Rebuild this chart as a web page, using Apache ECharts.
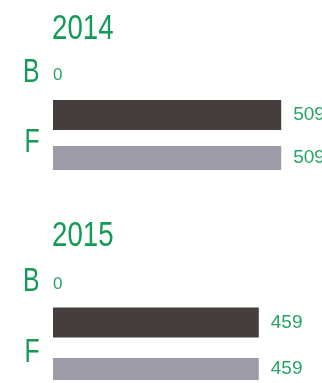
<!DOCTYPE html>
<html>
<head>
<meta charset="utf-8">
<style>
  html, body { margin: 0; padding: 0; background: #ffffff; }
  #chart { width: 322px; height: 383px; }
</style>
<script src="https://cdn.jsdelivr.net/npm/echarts@6/dist/echarts.min.js"></script>
</head>
<body>
<div id="chart"></div>
<script>
// Yearly panels: a "B" row (single value) and an "F" row with two bars.
const years = ['2014', '2015'];
const rows = ['B', 'F'];
const bValues = [0, 0];
const darkValues = [509, 459];
const grayValues = [509, 459];

const GREEN = '#139a58';
const LABEL_GREEN = '#25a466';
const DARK = '#463d3d';
const GRAY = '#9e9ba8';
const SANS = '"Liberation Sans", Arial, sans-serif';

// per-panel layout
const panels = [
  { top: 42, height: 128, titleY: 29, barGap: '53%' },
  { top: 251, height: 129, titleY: 236, barGap: '68%' }
];

const option = {
  animation: false,
  grid: [],
  xAxis: [],
  yAxis: [],
  series: []
};

years.forEach((year, i) => {
  const p = panels[i];
  option.grid.push({ left: 53, top: p.top, width: 269, height: p.height, containLabel: false });
  option.xAxis.push({ gridIndex: i, type: 'value', min: 0, max: 600, show: false });
  // row axis (its letters are drawn condensed below)
  option.yAxis.push({
    gridIndex: i, type: 'category', data: rows, inverse: true,
    axisLine: { show: false }, axisTick: { show: false }, splitLine: { show: false },
    axisLabel: { show: false }
  });
  // hidden twin axis so the single B value sits centred in its row
  option.yAxis.push({ gridIndex: i, type: 'category', data: rows, inverse: true, show: false });

  const yMain = i * 2;
  const yTwin = i * 2 + 1;
  const numLabel = {
    show: true, position: 'right', distance: 12,
    color: LABEL_GREEN, fontSize: 19, fontFamily: SANS
  };

  option.series.push({
    type: 'bar', xAxisIndex: i, yAxisIndex: yTwin,
    data: [bValues[i], '-'],
    barWidth: 30,
    itemStyle: { color: DARK },
    label: { show: true, position: 'right', distance: 0, offset: [0, 1], color: LABEL_GREEN, fontSize: 17, fontFamily: SANS }
  });
  option.series.push({
    type: 'bar', xAxisIndex: i, yAxisIndex: yMain,
    data: ['-', darkValues[i]],
    barWidth: 30, barGap: p.barGap,
    itemStyle: { color: DARK },
    label: numLabel
  });
  option.series.push({
    type: 'bar', xAxisIndex: i, yAxisIndex: yMain,
    data: ['-', grayValues[i]],
    barWidth: 30, barGap: p.barGap,
    itemStyle: { color: GRAY },
    label: numLabel
  });
});

const chart = echarts.init(document.getElementById('chart'), null, { renderer: 'canvas' });
chart.setOption(option);

// Condensed green headings and row letters, placed from the axes' own scales.
const graphics = [];
years.forEach((year, i) => {
  graphics.push({
    type: 'text', x: 52, y: panels[i].titleY, scaleX: 0.79,
    style: {
      text: year, fill: GREEN, fontSize: 35, fontFamily: SANS,
      textAlign: 'left', textVerticalAlign: 'middle'
    }
  });
  rows.forEach(r => {
    const yPix = chart.convertToPixel({ yAxisIndex: i * 2 }, r);
    graphics.push({
      type: 'text', x: 39.5, y: yPix + (r === 'F' ? 5 : -1), scaleX: 0.75,
      style: {
        text: r, fill: GREEN, fontSize: 33, fontFamily: SANS,
        textAlign: 'right', textVerticalAlign: 'middle'
      }
    });
  });
});
chart.setOption({ graphic: graphics });
</script>
</body>
</html>
